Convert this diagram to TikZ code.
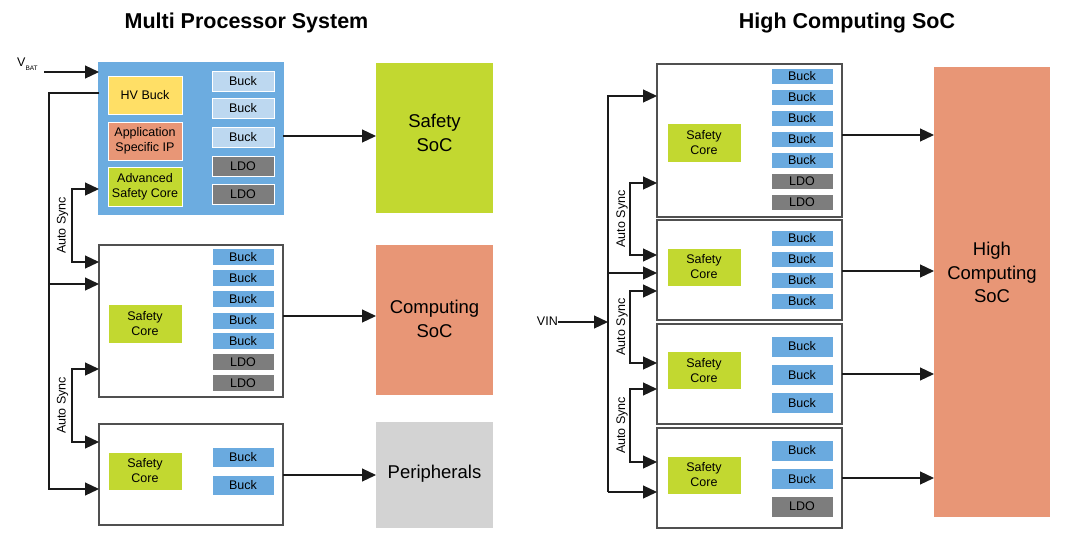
\documentclass[tikz,border=0pt]{standalone}
\usepackage{fontspec}
\setmainfont{Liberation Sans}
\usetikzlibrary{arrows.meta,calc}
\definecolor{bluebg}{HTML}{6CACE0}
\definecolor{buckblue}{HTML}{6AAADF}
\definecolor{lightblue}{HTML}{BDD8F0}
\definecolor{ldogray}{HTML}{7D7D7D}
\definecolor{coregreen}{HTML}{C2D830}
\definecolor{hvyellow}{HTML}{FFDF66}
\definecolor{salmon}{HTML}{E89676}
\definecolor{periph}{HTML}{D3D3D3}
\definecolor{frame}{HTML}{505050}
\definecolor{wire}{HTML}{1A1A1A}
\begin{document}
\begin{tikzpicture}[x=1pt,y=-1pt,
  blk/.style={rectangle, inner sep=0pt, outer sep=0pt, align=center, font=\fontsize{12.5}{15}\selectfont},
  unit/.style={blk, draw=frame, line width=1.4pt, fill=white, minimum width=185pt},
  buck/.style={blk, fill=buckblue, draw=white, line width=0.6pt, minimum width=62pt},
  lbuck/.style={buck, fill=lightblue},
  ldo/.style={buck, fill=ldogray},
  core/.style={blk, fill=coregreen, draw=white, line width=0.6pt, minimum width=74pt},
  soc/.style={blk, minimum width=117pt},
  soctxt/.style={inner sep=0pt, align=center, font=\fontsize{18.5}{23.5}\selectfont},
  ttl/.style={font=\fontsize{21.5}{24}\selectfont\bfseries, inner sep=0pt},
  lbl/.style={font=\fontsize{12.5}{14}\selectfont, inner sep=0pt},
  ln/.style={draw=wire, line width=1.2pt},
  arr/.style={ln, -{Triangle[length=14pt,width=13pt]}},
  sync/.style={ln, {Triangle[length=14pt,width=13pt]}-{Triangle[length=14pt,width=13pt]}}
]
\useasboundingbox (0,0) rectangle (1080,557);

% ---------------- Left: Multi Processor System ----------------
\node[ttl] (t1) at (246.5,23) {Multi Processor System};

\node[unit, fill=bluebg, draw=bluebg, minimum width=184pt, minimum height=151pt] (b1) at (191,138.5) {};
\node[unit, minimum width=184pt, minimum height=152pt] (b2) at (191,321) {};
\node[unit, minimum width=184pt, minimum height=101pt] (b3) at (191,474.5) {};

\node[blk, fill=hvyellow, draw=white, line width=0.6pt, minimum width=74pt, minimum height=38pt] (hv) at (145,95) {HV Buck};
\node[blk, fill=salmon, draw=white, line width=0.6pt, minimum width=74pt, minimum height=38pt] (asip) at (145,141) {Application\\Specific IP};
\node[core, minimum height=39pt] (asc) at (145,186.5) {Advanced\\Safety Core};
\node[lbuck, minimum height=20pt] (b1k1) at (243,81) {Buck};
\node[lbuck, minimum height=20pt] (b1k2) at (243,108.5) {Buck};
\node[lbuck, minimum height=20pt] (b1k3) at (243,137.5) {Buck};
\node[ldo, minimum height=20pt] (b1l1) at (243,166) {LDO};
\node[ldo, minimum height=20pt] (b1l2) at (243,194) {LDO};

\node[core, minimum height=39pt] (c2) at (145,323.5) {Safety\\Core};
\node[buck, minimum height=17pt] (b2k1) at (243,257) {Buck};
\node[buck, minimum height=17pt] (b2k2) at (243,278) {Buck};
\node[buck, minimum height=17pt] (b2k3) at (243,299) {Buck};
\node[buck, minimum height=17pt] (b2k4) at (243,320.5) {Buck};
\node[buck, minimum height=17pt] (b2k5) at (243,341) {Buck};
\node[ldo, minimum height=17pt] (b2l1) at (243,362) {LDO};
\node[ldo, minimum height=17pt] (b2l2) at (243,383) {LDO};

\node[core, minimum height=38pt] (c3) at (145,471) {Safety\\Core};
\node[buck, minimum height=20pt] (b3k1) at (243,457) {Buck};
\node[buck, minimum height=20pt] (b3k2) at (243,485.5) {Buck};

\node[soc, fill=coregreen, minimum height=150pt] (ssoc) at (434.5,138) {};
\node[soctxt] (ssoct) at (434.5,133) {Safety\\SoC};
\node[soc, fill=salmon, minimum height=150pt] (csoc) at (434.5,320) {};
\node[soctxt] (csoct) at (434.5,319) {Computing\\SoC};
\node[soc, fill=periph, minimum height=106pt] (per) at (434.5,475) {};
\node[soctxt] (pert) at (434.5,474) {Peripherals};

% V_BAT input
\node[lbl, anchor=west] (vbatl) at (17,64) {V\raisebox{-4pt}{\fontsize{6.5}{7}\selectfont BAT}};
\coordinate (vbat) at (44,72);
\draw[arr] (vbat) -- (vbat -| b1.west);

% supply bus
\coordinate (lbus1) at (49,93);
\coordinate (lbus2) at (49,284);
\coordinate (lbus3) at (49,489);
\draw[arr] (lbus1 -| b1.west) -- (lbus1) -- (lbus3) -- (lbus3 -| b3.west);
\draw[arr] (lbus2) -- (lbus2 -| b2.west);

% auto sync
\coordinate (ls1a) at (72,189);
\coordinate (ls1b) at (72,262);
\coordinate (ls2a) at (72,369);
\coordinate (ls2b) at (72,442);
\draw[sync] (ls1a -| b1.west) -- (ls1a) -- (ls1b) -- (ls1b -| b2.west);
\draw[sync] (ls2a -| b2.west) -- (ls2a) -- (ls2b) -- (ls2b -| b3.west);
\node[lbl, rotate=90] (lsy1) at ($(ls1a)!0.5!(ls1b)+(-9.5,0)$) {Auto Sync};
\node[lbl, rotate=90] (lsy2) at ($(ls2a)!0.5!(ls2b)+(-9.5,0)$) {Auto Sync};

% outputs
\draw[arr] (b1.east |- 0,136) -- (ssoc.west |- 0,136);
\draw[arr] (b2.east |- 0,316) -- (csoc.west |- 0,316);
\draw[arr] (b3.east |- 0,475) -- (per.west |- 0,475);

% ---------------- Right: High Computing SoC ----------------
\node[ttl] (t2) at (847,23) {High Computing SoC};

\node[unit, minimum height=153pt] (rA) at (749.5,140.5) {};
\node[unit, minimum height=100pt] (rB) at (749.5,270) {};
\node[unit, minimum height=100pt] (rC) at (749.5,374) {};
\node[unit, minimum height=100pt] (rD) at (749.5,478) {};

\node[soc, fill=salmon, minimum width=116pt, minimum height=450pt] (hsoc) at (992,292) {};
\node[soctxt] (hsoct) at (992,272.5) {High\\Computing\\SoC};

\node[core, minimum height=39pt] (cA) at (704,142.5) {Safety\\Core};
\node[buck, minimum height=16pt] (ak1) at (802,76) {Buck};
\node[buck, minimum height=16pt] (ak2) at (802,97) {Buck};
\node[buck, minimum height=16pt] (ak3) at (802,118) {Buck};
\node[buck, minimum height=16pt] (ak4) at (802,139.5) {Buck};
\node[buck, minimum height=16pt] (ak5) at (802,160.5) {Buck};
\node[ldo, minimum height=16pt] (al1) at (802,181) {LDO};
\node[ldo, minimum height=16pt] (al2) at (802,202) {LDO};

\node[core, minimum height=38pt] (cB) at (704,267) {Safety\\Core};
\node[buck, minimum height=16pt] (bk1) at (802,238) {Buck};
\node[buck, minimum height=16pt] (bk2) at (802,259) {Buck};
\node[buck, minimum height=16pt] (bk3) at (802,280) {Buck};
\node[buck, minimum height=16pt] (bk4) at (802,301.5) {Buck};

\node[core, minimum height=38pt] (cC) at (704,370.5) {Safety\\Core};
\node[buck, minimum height=21pt] (ck1) at (802,346.5) {Buck};
\node[buck, minimum height=21pt] (ck2) at (802,375) {Buck};
\node[buck, minimum height=21pt] (ck3) at (802,403) {Buck};

\node[core, minimum height=38pt] (cD) at (704,475) {Safety\\Core};
\node[buck, minimum height=21pt] (dk1) at (802,450.5) {Buck};
\node[buck, minimum height=21pt] (dk2) at (802,479) {Buck};
\node[ldo, minimum height=21pt] (dl1) at (802,506.5) {LDO};

% VIN and bus
\node[lbl, anchor=east] (vinl) at (558,321) {VIN};
\coordinate (vin) at (558,322);
\coordinate (rbus1) at (608,96);
\coordinate (rbus2) at (608,273);
\coordinate (rbus3) at (608,492);
\draw[arr] (vin) -- (vin -| rbus1);
\draw[arr] (rbus3) -- (rbus1) -- (rbus1 -| rA.west);
\draw[arr] (rbus2) -- (rbus2 -| rB.west);
\draw[arr] (rbus3) -- (rbus3 -| rD.west);

% auto sync
\coordinate (rs1a) at (630,183);
\coordinate (rs1b) at (630,255);
\coordinate (rs2a) at (630,291);
\coordinate (rs2b) at (630,363);
\coordinate (rs3a) at (630,389);
\coordinate (rs3b) at (630,462);
\draw[sync] (rs1a -| rA.west) -- (rs1a) -- (rs1b) -- (rs1b -| rB.west);
\draw[sync] (rs2a -| rB.west) -- (rs2a) -- (rs2b) -- (rs2b -| rC.west);
\draw[sync] (rs3a -| rC.west) -- (rs3a) -- (rs3b) -- (rs3b -| rD.west);
\node[lbl, rotate=90] (rsy1) at ($(rs1a)!0.5!(rs1b)+(-8,0)$) {Auto Sync};
\node[lbl, rotate=90] (rsy2) at ($(rs2a)!0.5!(rs2b)+(-8,0)$) {Auto Sync};
\node[lbl, rotate=90] (rsy3) at ($(rs3a)!0.5!(rs3b)+(-8,0)$) {Auto Sync};

% outputs
\draw[arr] (rA.east |- 0,135) -- (hsoc.west |- 0,135);
\draw[arr] (rB.east |- 0,271) -- (hsoc.west |- 0,271);
\draw[arr] (rC.east |- 0,374) -- (hsoc.west |- 0,374);
\draw[arr] (rD.east |- 0,478) -- (hsoc.west |- 0,478);
\end{tikzpicture}
\end{document}
